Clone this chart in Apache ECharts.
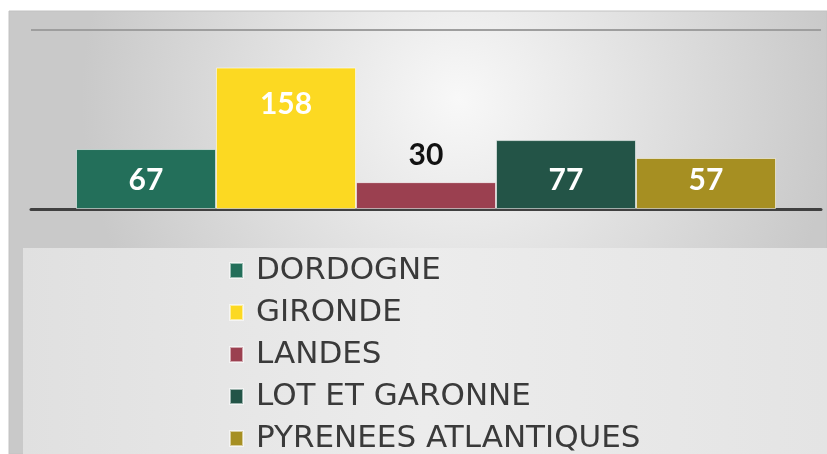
<!DOCTYPE html>
<html>
<head>
<meta charset="utf-8">
<script src="https://cdn.jsdelivr.net/npm/echarts@6/dist/echarts.min.js"></script>
<style>
  html, body { margin: 0; padding: 0; background: #fff; }
  #chart { width: 827px; height: 454px; }
</style>
</head>
<body>
<div id="chart"></div>
<script>
// données
var departements = ['DORDOGNE', 'GIRONDE', 'LANDES', 'LOT ET GARONNE', 'PYRENEES ATLANTIQUES']
var valeurs = [67, 158, 30, 77, 57]
var couleurs = ['#236f5a', '#fcd922', '#9b4050', '#235447', '#a68f22']
var yTicks = [0, 200]

var chart = echarts.init(document.getElementById('chart'))

// libellé par barre : 30 est au-dessus en noir, les autres dedans en blanc
function labelFor(i) {
  var base = {
    show: true,
    fontFamily: 'Lato',
    fontWeight: 'bold',
    fontSize: 30,
    color: '#ffffff'
  }
  if (valeurs[i] < 40) {
    base.position = 'top'
    base.distance = 12
    base.color = '#111111'
  } else if (valeurs[i] > 120) {
    base.position = 'insideTop'
    base.distance = 22
  } else {
    base.position = 'insideBottom'
    base.distance = 14
  }
  return base
}

var series = departements.map(function(name, i) {
  return {
    name: name,
    type: 'bar',
    barWidth: 140,
    barGap: '0%',
    data: [valeurs[i]],
    itemStyle: {
      color: couleurs[i],
      borderColor: 'rgba(255,255,255,0.55)',
      borderWidth: 1
    },
    label: labelFor(i)
  }
})

chart.setOption({
  backgroundColor: '#ffffff',
  animation: false,
  graphic: [
    { // panneau gris
      type: 'rect',
      z: -10,
      shape: { x: 9, y: 11, width: 818, height: 443 },
      style: {
        fill: {
          type: 'radial', x: 0.55, y: 0.2, r: 0.85,
          colorStops: [{ offset: 0, color: '#f8f8f8' }, { offset: 1, color: '#c9c9c9' }]
        },
        stroke: '#c2c2c2',
        lineWidth: 1
      }
    },
    { // fond de la légende
      type: 'rect',
      z: -9,
      shape: { x: 23, y: 248, width: 804, height: 206 },
      style: {
        fill: {
          type: 'linear', x: 0, y: 0, x2: 1, y2: 0,
          colorStops: [
            { offset: 0, color: '#e0e0e0' },
            { offset: 0.5, color: '#ececec' },
            { offset: 1, color: '#e4e4e4' }
          ]
        }
      }
    }
  ],
  grid: { left: 31, right: 6, top: 30, bottom: 245 },
  xAxis: {
    type: 'category',
    data: ['Départements'],
    axisTick: { show: false },
    axisLabel: { show: false },
    axisLine: { lineStyle: { color: '#404040', width: 3 } }
  },
  yAxis: {
    type: 'value',
    min: yTicks[0],
    max: yTicks[1],
    interval: yTicks[1] - yTicks[0],
    axisLabel: { show: false },
    axisLine: { show: false },
    splitLine: { lineStyle: { color: '#9e9e9e', width: 2 } }
  },
  legend: {
    orient: 'vertical',
    left: 229,
    top: 255,
    height: 240,
    padding: 0,
    itemWidth: 13,
    itemHeight: 15,
    itemGap: 11,
    icon: 'rect',
    textStyle: {
      fontFamily: 'DejaVu Sans',
      fontSize: 31,
      lineHeight: 30,
      color: '#3a3a3a',
      padding: [0, 0, 0, 8]
    },
    data: departements
  },
  series: series
})
</script>
</body>
</html>
